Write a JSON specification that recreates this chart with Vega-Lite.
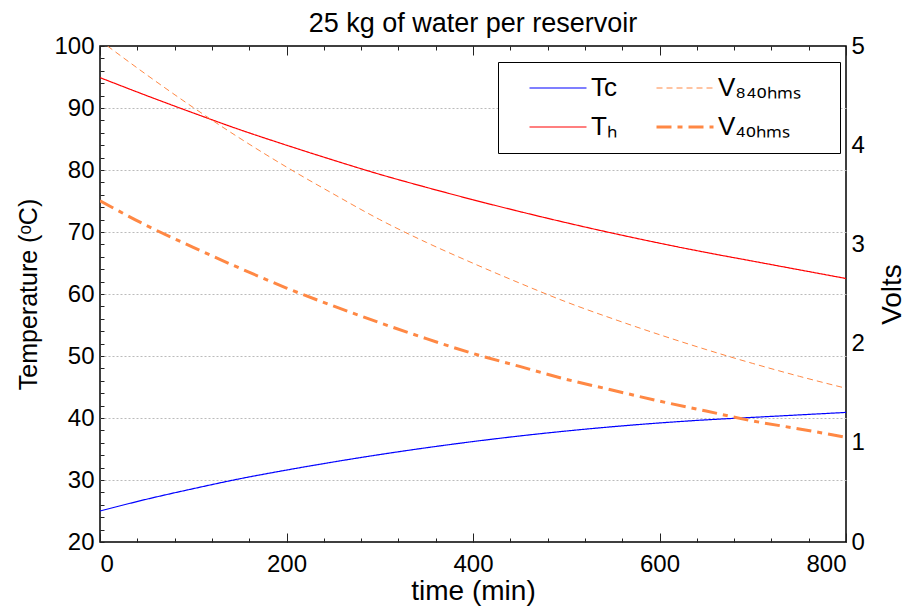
{
  "$schema": "https://vega.github.io/schema/vega-lite/v6.json",
  "width": 746,
  "height": 496,
  "autosize": {"type": "none"},
  "padding": {"left": 100, "top": 46, "right": 67, "bottom": 68},
  "background": "white",
  "title": {"text": "25 kg of water per reservoir", "fontSize": 27, "fontWeight": "normal", "font": "Liberation Sans", "color": "black", "offset": -4},
  "config": {
    "font": "Liberation Sans",
    "view": {"stroke": "black", "strokeWidth": 1.5},
    "axis": {"domain": false, "labelColor": "black", "titleColor": "black", "labelFont": "Liberation Sans", "titleFont": "Liberation Sans", "labelFontSize": 24, "titleFontSize": 26, "titleFontWeight": "normal", "tickColor": "#222222", "tickWidth": 1}
  },
  "datasets": {
    "temps": [
      {"t": 0, "series": "Tc", "value": 25.0}, {"t": 50, "series": "Tc", "value": 26.9}, {"t": 100, "series": "Tc", "value": 28.6}, {"t": 150, "series": "Tc", "value": 30.2}, {"t": 200, "series": "Tc", "value": 31.6}, {"t": 250, "series": "Tc", "value": 32.9}, {"t": 300, "series": "Tc", "value": 34.1}, {"t": 350, "series": "Tc", "value": 35.2}, {"t": 400, "series": "Tc", "value": 36.2}, {"t": 450, "series": "Tc", "value": 37.1}, {"t": 500, "series": "Tc", "value": 37.9}, {"t": 550, "series": "Tc", "value": 38.6}, {"t": 600, "series": "Tc", "value": 39.2}, {"t": 650, "series": "Tc", "value": 39.7}, {"t": 700, "series": "Tc", "value": 40.1}, {"t": 750, "series": "Tc", "value": 40.5}, {"t": 800, "series": "Tc", "value": 40.9},
      {"t": 0, "series": "Th", "value": 94.9}, {"t": 50, "series": "Th", "value": 92.0}, {"t": 100, "series": "Th", "value": 89.2}, {"t": 150, "series": "Th", "value": 86.5}, {"t": 200, "series": "Th", "value": 84.0}, {"t": 250, "series": "Th", "value": 81.6}, {"t": 300, "series": "Th", "value": 79.3}, {"t": 350, "series": "Th", "value": 77.2}, {"t": 400, "series": "Th", "value": 75.2}, {"t": 450, "series": "Th", "value": 73.3}, {"t": 500, "series": "Th", "value": 71.5}, {"t": 550, "series": "Th", "value": 69.8}, {"t": 600, "series": "Th", "value": 68.2}, {"t": 650, "series": "Th", "value": 66.7}, {"t": 700, "series": "Th", "value": 65.3}, {"t": 750, "series": "Th", "value": 63.9}, {"t": 800, "series": "Th", "value": 62.5}
    ],
    "volts": [
      {"t": 8, "series": "V84ohms", "value": 5.0}, {"t": 50, "series": "V84ohms", "value": 4.71}, {"t": 100, "series": "V84ohms", "value": 4.38}, {"t": 150, "series": "V84ohms", "value": 4.07}, {"t": 200, "series": "V84ohms", "value": 3.78}, {"t": 250, "series": "V84ohms", "value": 3.51}, {"t": 300, "series": "V84ohms", "value": 3.25}, {"t": 350, "series": "V84ohms", "value": 3.02}, {"t": 400, "series": "V84ohms", "value": 2.81}, {"t": 450, "series": "V84ohms", "value": 2.61}, {"t": 500, "series": "V84ohms", "value": 2.42}, {"t": 550, "series": "V84ohms", "value": 2.25}, {"t": 600, "series": "V84ohms", "value": 2.09}, {"t": 650, "series": "V84ohms", "value": 1.94}, {"t": 700, "series": "V84ohms", "value": 1.80}, {"t": 750, "series": "V84ohms", "value": 1.67}, {"t": 800, "series": "V84ohms", "value": 1.55},
      {"t": 0, "series": "V4ohms", "value": 3.44}, {"t": 50, "series": "V4ohms", "value": 3.19}, {"t": 100, "series": "V4ohms", "value": 2.97}, {"t": 150, "series": "V4ohms", "value": 2.76}, {"t": 200, "series": "V4ohms", "value": 2.56}, {"t": 250, "series": "V4ohms", "value": 2.38}, {"t": 300, "series": "V4ohms", "value": 2.21}, {"t": 350, "series": "V4ohms", "value": 2.05}, {"t": 400, "series": "V4ohms", "value": 1.90}, {"t": 450, "series": "V4ohms", "value": 1.77}, {"t": 500, "series": "V4ohms", "value": 1.64}, {"t": 550, "series": "V4ohms", "value": 1.53}, {"t": 600, "series": "V4ohms", "value": 1.42}, {"t": 650, "series": "V4ohms", "value": 1.32}, {"t": 700, "series": "V4ohms", "value": 1.22}, {"t": 750, "series": "V4ohms", "value": 1.14}, {"t": 800, "series": "V4ohms", "value": 1.055}
    ]
  },
  "layer": [
    {
      "data": {"name": "temps"},
      "mark": {"type": "line", "interpolate": "monotone", "clip": true},
      "encoding": {
        "x": {"field": "t", "type": "quantitative", "scale": {"domain": [0, 800], "nice": false},
          "axis": {"orient": "bottom", "title": "time (min)", "titleFontSize": 28, "titlePadding": 1, "values": [0, 200, 400, 600, 800],
            "ticks": false, "tickSize": 0, "labelPadding": 10, "grid": false}},
        "y": {"field": "value", "type": "quantitative", "scale": {"domain": [20, 100], "nice": false},
          "axis": {"orient": "left", "offset": -4, "title": "Temperature (ᵒC)", "titleFontSize": 25, "titlePadding": 12, "values": [20,22,24,26,28,30,32,34,36,38,40,42,44,46,48,50,52,54,56,58,60,62,64,66,68,70,72,74,76,78,80,82,84,86,88,90,92,94,96,98,100],
            "labelExpr": "datum.value % 10 === 0 ? datum.label : ''", "ticks": true, "tickSize": 4, "labelPadding": 6,
            "grid": true, "gridDash": [2, 2], "gridColor": "#bbbbbb", "gridWidth": 1, "gridOpacity": {"condition": {"test": "datum.value % 10 === 0 && datum.value > 20 && datum.value < 100", "value": 1}, "value": 0}}},
        "color": {"field": "series", "type": "nominal",
          "scale": {"domain": ["Tc", "V84ohms", "Th", "V4ohms"], "range": ["#0000ff", "#ff8844", "#ff0000", "#ff8844"]},
          "legend": {"orient": "none", "legendX": 398, "legendY": 16, "columns": 2, "title": "\u2003", "titleOrient": "right", "titleFontSize": 10, "titlePadding": 28, "values": ["Tc", "Th", "V84ohms", "V4ohms"], "symbolType": "stroke", "symbolSize": 3249, "clipHeight": 30, "symbolOffset": 19,
            "labelFontSize": 26, "labelFont": "Liberation Sans", "labelColor": "black", "labelOffset": 3, "columnPadding": 19, "rowPadding": 9, "padding": 11,
            "strokeColor": "black", "fillColor": "white",
            "labelExpr": "{'Tc': 'Tc', 'Th': 'Tₕ', 'V84ohms': 'V₈₄ₒₕₘₛ', 'V4ohms': 'V₄ₒₕₘₛ'}[datum.label]"}},
        "strokeDash": {"field": "series", "type": "nominal",
          "scale": {"domain": ["Tc", "V84ohms", "Th", "V4ohms"], "range": [[1, 0], [6, 4], [1, 0], [15, 6, 5, 6]]}},
        "strokeWidth": {"field": "series", "type": "nominal",
          "scale": {"type": "ordinal", "domain": ["Tc", "V84ohms", "Th", "V4ohms"], "range": [1.2, 1, 1.2, 3]}}
      }
    },
    {
      "data": {"name": "volts"},
      "mark": {"type": "line", "interpolate": "monotone", "clip": true},
      "encoding": {
        "x": {"field": "t", "type": "quantitative",
          "axis": {"orient": "top", "offset": -496, "title": null, "labels": false, "ticks": true, "values": [0,40,80,120,160,200,240,280,320,360,400,440,480,520,560,600,640,680,720,760,800],
            "tickSize": 4, "grid": false}},
        "y": {"field": "value", "type": "quantitative", "scale": {"domain": [0, 5], "nice": false},
          "axis": {"orient": "right", "title": "Volts", "titleFontSize": 28, "titleAngle": -90, "titleBaseline": "top", "titlePadding": 14, "values": [0, 1, 2, 3, 4, 5], "ticks": false, "tickSize": 0, "labelPadding": 5, "grid": false}},
        "color": {"field": "series", "type": "nominal",
          "scale": {"domain": ["Tc", "V84ohms", "Th", "V4ohms"], "range": ["#0000ff", "#ff8844", "#ff0000", "#ff8844"]}},
        "strokeDash": {"field": "series", "type": "nominal",
          "scale": {"domain": ["Tc", "V84ohms", "Th", "V4ohms"], "range": [[1, 0], [6, 4], [1, 0], [15, 6, 5, 6]]}},
        "strokeWidth": {"field": "series", "type": "nominal",
          "scale": {"type": "ordinal", "domain": ["Tc", "V84ohms", "Th", "V4ohms"], "range": [1.2, 1, 1.2, 3]}}
      }
    },
    {
      "data": {"name": "volts"},
      "mark": {"type": "line", "opacity": 0, "clip": true},
      "encoding": {
        "x": {"field": "t", "type": "quantitative",
          "axis": {"orient": "bottom", "offset": -496, "title": null, "labels": false, "ticks": true, "values": [0,40,80,120,160,200,240,280,320,360,400,440,480,520,560,600,640,680,720,760,800],
            "tickSize": 4, "grid": false}},
        "y": {"field": "value", "type": "quantitative", "axis": null},
        "detail": {"field": "series", "type": "nominal"}
      }
    },
    {
      "data": {"name": "volts"},
      "mark": {"type": "line", "opacity": 0, "clip": true},
      "encoding": {
        "x": {"field": "t", "type": "quantitative",
          "axis": {"orient": "top", "offset": -496, "title": null, "labels": false, "ticks": true, "values": [0, 200, 400, 600, 800],
            "tickSize": 9, "grid": false}},
        "y": {"field": "value", "type": "quantitative", "axis": null},
        "detail": {"field": "series", "type": "nominal"}
      }
    },
    {
      "data": {"name": "volts"},
      "mark": {"type": "line", "opacity": 0, "clip": true},
      "encoding": {
        "x": {"field": "t", "type": "quantitative",
          "axis": {"orient": "bottom", "offset": -496, "title": null, "labels": false, "ticks": true, "values": [0, 200, 400, 600, 800],
            "tickSize": 9, "grid": false}},
        "y": {"field": "value", "type": "quantitative", "axis": null},
        "detail": {"field": "series", "type": "nominal"}
      }
    }
  ],
  "resolve": {"scale": {"y": "independent"}, "axis": {"x": "independent"}}
}
